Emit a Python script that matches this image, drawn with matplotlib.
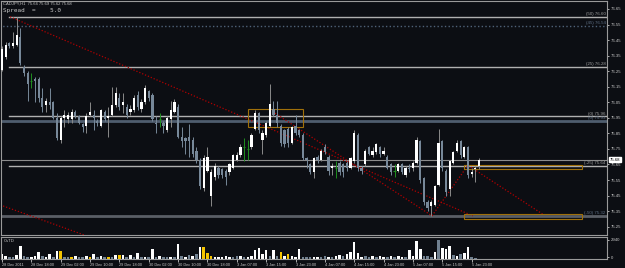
import matplotlib.pyplot as plt

plt.rcParams['font.family'] = ['Liberation Sans', 'DejaVu Sans']

# CADJPY H1 candles, 28 Dec 2011 10:00 .. 6 Jan 2012 00:00
opens = [76.26, 76.34, 76.43, 76.41, 76.42, 76.47, 76.28, 76.24, 76.19, 76.20,
         76.20, 76.08, 76.03, 76.05, 76.05, 75.95, 75.81, 75.95, 75.94, 75.94,
         75.99, 75.96, 75.91, 75.90, 75.97, 75.97, 75.93, 75.90, 75.99, 75.95,
         75.97, 76.03, 76.08, 76.03, 76.02, 75.99, 76.00, 76.10, 76.01, 76.05,
         76.12, 76.10, 75.92, 75.94, 75.92, 75.87, 75.94, 75.99, 76.02, 75.83,
         75.82, 75.83, 75.81, 75.74, 75.68, 75.50, 75.61, 75.45, 75.57, 75.63,
         75.62, 75.61, 75.60, 75.63, 75.68, 75.71, 75.76, 75.75, 75.76, 75.88,
         75.98, 75.81, 75.84, 75.90, 76.01, 75.97, 75.90, 75.87, 75.88, 75.79,
         75.90, 75.87, 75.84, 75.69, 75.65, 75.60, 75.70, 75.68, 75.76, 75.70,
         75.63, 75.63, 75.66, 75.65, 75.66, 75.63, 75.67, 75.84, 75.63, 75.65,
         75.76, 75.71, 75.73, 75.76, 75.72, 75.70, 75.65, 75.61, 75.61, 75.65,
         75.58, 75.63, 75.63, 75.66, 75.80, 75.56, 75.41, 75.38, 75.39, 75.52,
         75.80, 75.61, 75.49, 75.66, 75.74, 75.80, 75.70, 75.76, 75.59, 75.62,
         75.64]
highs = [76.41, 76.44, 76.44, 76.50, 76.60, 76.53, 76.29, 76.25, 76.24, 76.21,
         76.21, 76.14, 76.08, 76.14, 76.06, 75.98, 75.96, 76.00, 75.99, 76.01,
         76.00, 75.97, 75.92, 75.98, 76.05, 76.00, 75.94, 76.01, 76.00, 76.02,
         76.15, 76.15, 76.11, 76.11, 76.04, 76.03, 76.10, 76.12, 76.07, 76.16,
         76.13, 76.11, 75.96, 75.98, 75.93, 75.96, 76.06, 76.07, 76.04, 75.89,
         75.83, 75.91, 75.83, 75.76, 75.69, 75.71, 75.76, 75.62, 75.66, 75.64,
         75.63, 75.62, 75.66, 75.72, 75.73, 75.78, 75.82, 75.81, 75.85, 76.00,
         75.99, 75.87, 75.93, 76.17, 76.06, 76.06, 75.91, 75.88, 75.89, 75.90,
         75.97, 75.88, 75.85, 75.70, 75.66, 75.70, 75.71, 75.75, 75.78, 75.71,
         75.66, 75.67, 75.67, 75.66, 75.67, 75.70, 75.87, 75.85, 75.64, 75.75,
         75.77, 75.76, 75.79, 75.77, 75.76, 75.71, 75.66, 75.65, 75.66, 75.66,
         75.64, 75.65, 75.67, 75.83, 75.81, 75.57, 75.42, 75.42, 75.52, 75.88,
         75.81, 75.62, 75.68, 75.74, 75.81, 75.81, 75.77, 75.77, 75.63, 75.64,
         75.69]
lows = [76.25, 76.33, 76.40, 76.40, 76.41, 76.29, 76.22, 76.06, 76.14, 76.05,
        76.05, 75.99, 75.99, 76.01, 75.94, 75.81, 75.79, 75.89, 75.92, 75.92,
        75.95, 75.91, 75.86, 75.85, 75.96, 75.87, 75.90, 75.89, 75.93, 75.83,
        75.96, 76.02, 76.00, 75.98, 75.95, 75.97, 75.99, 76.00, 75.99, 76.04,
        76.06, 75.93, 75.85, 75.89, 75.85, 75.86, 75.89, 75.98, 75.82, 75.76,
        75.72, 75.70, 75.70, 75.66, 75.49, 75.48, 75.60, 75.38, 75.55, 75.56,
        75.56, 75.52, 75.58, 75.62, 75.67, 75.70, 75.67, 75.68, 75.75, 75.87,
        75.85, 75.72, 75.83, 75.89, 75.96, 75.89, 75.77, 75.76, 75.76, 75.78,
        75.84, 75.83, 75.68, 75.63, 75.59, 75.56, 75.66, 75.67, 75.72, 75.58,
        75.58, 75.56, 75.58, 75.57, 75.61, 75.62, 75.66, 75.61, 75.59, 75.64,
        75.71, 75.70, 75.72, 75.70, 75.71, 75.62, 75.58, 75.57, 75.60, 75.59,
        75.57, 75.60, 75.61, 75.65, 75.53, 75.39, 75.35, 75.32, 75.38, 75.51,
        75.61, 75.45, 75.45, 75.65, 75.73, 75.69, 75.69, 75.56, 75.57, 75.54,
        75.62]
closes = [76.39, 76.42, 76.41, 76.43, 76.48, 76.30, 76.24, 76.17, 76.19, 76.19,
          76.08, 76.02, 76.06, 76.03, 75.95, 75.82, 75.95, 75.97, 75.97, 75.99,
          75.96, 75.92, 75.89, 75.96, 75.99, 75.95, 75.92, 76.00, 75.94, 75.96,
          76.03, 76.11, 76.02, 76.05, 75.97, 76.01, 76.08, 76.02, 76.05, 76.14,
          76.08, 75.94, 75.91, 75.94, 75.90, 75.95, 76.00, 76.05, 75.83, 75.80,
          75.80, 75.80, 75.72, 75.68, 75.51, 75.69, 75.70, 75.60, 75.64, 75.58,
          75.58, 75.57, 75.65, 75.71, 75.71, 75.76, 75.76, 75.75, 75.84, 75.98,
          75.87, 75.85, 75.92, 76.04, 75.97, 75.92, 75.79, 75.78, 75.79, 75.89,
          75.85, 75.84, 75.69, 75.68, 75.60, 75.69, 75.68, 75.74, 75.73, 75.61,
          75.64, 75.63, 75.60, 75.60, 75.63, 75.69, 75.85, 75.63, 75.61, 75.74,
          75.72, 75.74, 75.78, 75.72, 75.74, 75.63, 75.60, 75.61, 75.65, 75.60,
          75.63, 75.62, 75.66, 75.81, 75.55, 75.41, 75.37, 75.41, 75.51, 75.79,
          75.63, 75.47, 75.67, 75.73, 75.79, 75.71, 75.76, 75.58, 75.60, 75.63,
          75.68]

volumes = [700, 500, 250, 300, 600, 1960, 400, 350, 300, 450,
           1110, 400, 300, 700, 300, 1260, 1260, 300, 250, 250,
           400, 250, 300, 400, 250, 700, 300, 400, 250, 300,
           250, 600, 600, 600, 300, 600, 250, 850, 300, 350,
           300, 1510, 300, 400, 300, 350, 350, 250, 2210, 400,
           350, 600, 400, 700, 1860, 1860, 900, 400, 300, 300,
           350, 400, 300, 350, 400, 500, 300, 350, 400, 1360,
           1610, 800, 1360, 400, 1360, 500, 1110, 400, 800, 400,
           300, 1510, 250, 300, 250, 300, 250, 300, 400, 250,
           300, 500, 600, 500, 700, 1110, 2510, 860, 300, 400,
           350, 400, 350, 400, 300, 350, 500, 300, 400, 350,
           300, 1360, 400, 2710, 1510, 500, 400, 350, 1110, 2940,
           1610, 1510, 2010, 600, 400, 700, 900, 1760, 300, 80,
           0]
vol_kind = "wwggwwggwwwgwwgwyggy" \
           "wggwywgwgygwywgwgwgw" \
           "gwgwggwgwgwgwgwyyyww" \
           "wwwggwgwwwwwwgwgywyw" \
           "wwgggwwggwgwwgwwwwwg" \
           "gwgwwgwgwwgwwwwgggwg" \
           "wwwgwgwwggy"

tick_labels = ["28 Dec 2011", "28 Dec 18:00", "29 Dec 02:00", "29 Dec 10:00",
               "29 Dec 18:00", "30 Dec 02:00", "30 Dec 10:00", "30 Dec 18:00",
               "3 Jan 07:00", "3 Jan 15:00", "3 Jan 23:00", "4 Jan 07:00",
               "4 Jan 15:00", "4 Jan 23:00", "5 Jan 07:00", "5 Jan 15:00",
               "5 Jan 23:00"]

fib_levels = [76.60, 76.54, 76.28, 75.96, 75.93, 75.64, 75.32]
fib_labels = ["(50) 76.60", "(45) 76.54", "(25) 76.28", "(0) 75.96",
              "(0) 75.93", "(-25) 75.64", "(-50) 75.32"]
price_ticks = [76.65, 76.55, 76.45, 76.35, 76.25, 76.15, 76.05, 75.95,
               75.85, 75.75, 75.65, 75.55, 75.45, 75.35, 75.25]
bid = 75.68

bg = "#0c0e13"
fg = "#c8c8c8"
bull = "#ffffff"
bear = "#778899"
doji = "#1f8f1f"

W, H = 625, 268
fig = plt.figure(figsize=(W / 100, H / 100), dpi=100, facecolor=bg)
ax = fig.add_axes([1 / W, 1 - 235 / H, 606 / W, 234 / H], facecolor=bg)
axv = fig.add_axes([1 / W, 1 - 259 / H, 606 / W, 22 / H], facecolor=bg)

n = len(opens)
x = list(range(n))
xmin, xmax = -0.27, 164.9

# fib / horizontal lines
line_style = {76.60: ("#b0b0b0", 1.0, "-", 2), 76.54: ("#4f6278", 1.0, ":", -1),
              76.28: ("#b0b0b0", 1.0, "-", 2), 75.96: ("#b0b0b0", 1.0, "-", 2),
              75.93: ("#4f5d6e", 2.0, "-", -1), 75.64: ("#b0b0b0", 1.0, "-", 2),
              75.32: ("#5a5e66", 2.0, "-", -1)}
for lvl, lab in zip(fib_levels, fib_labels):
    c, lw, ls, x0 = line_style[lvl]
    ax.plot([x0, xmax], [lvl, lvl], color=c, lw=lw, ls=ls, zorder=1)
    ax.text(xmax - 0.4, lvl + 0.004, lab, color="#a0a0a0" if c == "#b0b0b0" else "#5e6f84",
            fontsize=3.2, ha="right", va="bottom", zorder=6)
ax.axhline(bid, color="#8c8c8c", lw=0.8, zorder=1)

# trend lines and boxes
red = "#b00000"
dots = (0, (1, 1.5))
ax.plot([2.2, 128.3], [76.60, 75.32], color=red, lw=0.9, ls=dots, zorder=2)
ax.plot([74.4, 117.2], [75.98, 75.32], color=red, lw=0.9, ls=dots, zorder=2)
ax.plot([117.2, 127.0, 147.4], [75.32, 75.645, 75.33], color=red, lw=0.9, ls=dots, zorder=2)
ax.plot([-0.5, 23.2], [75.39, 75.19], color=red, lw=0.9, ls=dots, zorder=2)
orange = "#a0700a"
for x0, x1, y0, y1 in [(67.0, 82.0, 75.89, 76.01), (125.9, 158.0, 75.62, 75.645),
                       (125.9, 158.0, 75.30, 75.33)]:
    ax.add_patch(plt.Rectangle((x0, y0), x1 - x0, y1 - y0, fill=False,
                               ec=orange, lw=0.8, zorder=3))

# candles
for i in x:
    o, h, l, c = opens[i], highs[i], lows[i], closes[i]
    if c > o:
        col, wc = bull, "#8a8a8a"
    elif c < o:
        col, wc = bear, bear
    else:
        col, wc = doji, doji
    ax.vlines(i, l, h, color=wc, lw=0.7, zorder=4)
    if c == o:
        ax.hlines(o, i - 0.3, i + 0.3, color=col, lw=0.8, zorder=5)
    else:
        ax.bar(i, abs(c - o), bottom=min(o, c), width=0.6, color=col, lw=0, zorder=5)

ax.set_xlim(xmin, xmax)
ax.set_ylim(75.1966, 76.7014)
ax.yaxis.tick_right()
ax.set_yticks(price_ticks)
ax.set_yticklabels([f"{p:.2f}" for p in price_ticks])
ax.tick_params(axis="y", colors=fg, labelsize=3.1, length=1.5, width=0.6, pad=1.2)
ax.set_xticks([])
for s in ax.spines.values():
    s.set_color("#9a9a9a")
    s.set_linewidth(0.8)
ax.annotate(f"{bid:.2f}", xy=(1.0, bid), xycoords=("axes fraction", "data"),
            xytext=(2.2, 0), textcoords="offset points", fontsize=3.1, color="black",
            va="center", ha="left",
            bbox=dict(boxstyle="square,pad=0.15", fc="white", ec="white"))

ax.text(0.004, 0.997, "CADJPY,H1  75.64 75.69 75.62 75.68", transform=ax.transAxes,
        color=fg, fontsize=3.0, va="top", ha="left")
ax.text(0.004, 0.97, "Spread  =    5.0", transform=ax.transAxes,
        color=fg, fontsize=4.3, va="top", ha="left", family="DejaVu Sans Mono")

# volume panel
kind_color = {"w": "#ffffff", "g": "#708090", "y": "#f5c400"}
axv.bar(x, volumes, width=0.7, color=[kind_color[k] for k in vol_kind], lw=0)
axv.set_xlim(xmin, xmax)
axv.set_ylim(0, 3317)
axv.yaxis.tick_right()
axv.set_yticks([250, 2940])
axv.set_yticklabels(["0", "2940"])
axv.tick_params(axis="y", colors=fg, labelsize=3.1, length=1.5, width=0.6, pad=1.2)
axv.set_xticks(list(range(0, n, 8)))
axv.set_xticklabels(tick_labels, ha="left")
axv.tick_params(axis="x", colors=fg, labelsize=2.8, length=2, width=0.6, pad=1.2)
for s in axv.spines.values():
    s.set_color("#9a9a9a")
    s.set_linewidth(0.8)
axv.text(0.004, 0.92, "CsTD", transform=axv.transAxes, color=fg, fontsize=3.0,
         va="top", ha="left")

fig.savefig("out.png", dpi=100, facecolor=bg)
